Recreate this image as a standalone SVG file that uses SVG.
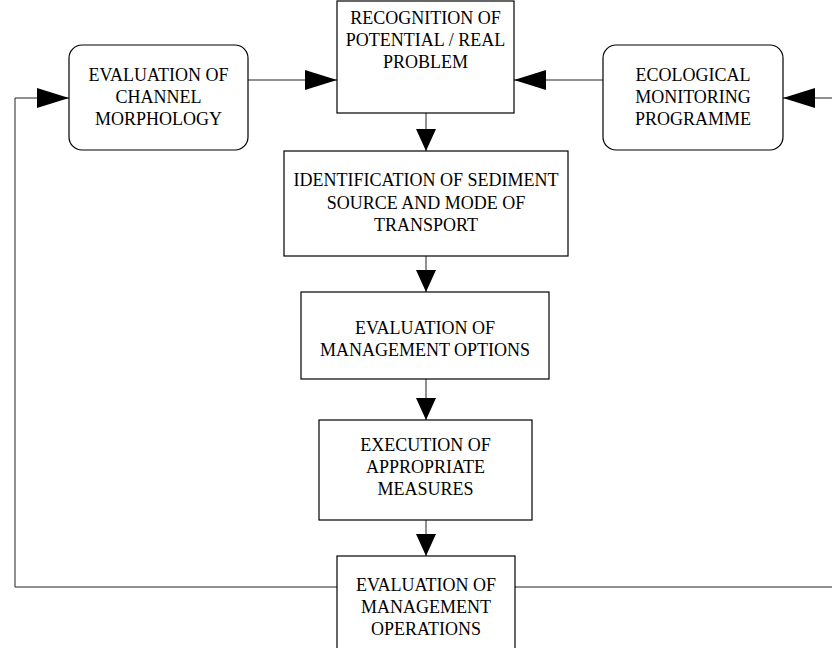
<svg xmlns="http://www.w3.org/2000/svg" width="832" height="648" viewBox="0 0 832 648">
  <defs>
    <marker id="arrow" viewBox="0 0 32 20" refX="32" refY="10" markerWidth="32" markerHeight="20" markerUnits="userSpaceOnUse" orient="auto">
      <path d="M0,0 L32,10 L0,20 Z" fill="#000"/>
    </marker>
    <marker id="arrowDown" viewBox="0 0 22 20" refX="22" refY="10" markerWidth="22" markerHeight="20" markerUnits="userSpaceOnUse" orient="auto">
      <path d="M0,0 L22,10 L0,20 Z" fill="#000"/>
    </marker>
  </defs>
  <style>
    .box { fill: #fff; stroke: #000; stroke-width: 1.2; }
    .lbl { font-family: "Liberation Serif", "Times New Roman", serif; font-size: 18px; fill: #000; text-anchor: middle; }
    .conn { fill: none; stroke: #222; stroke-width: 1; }
  </style>
  <rect width="832" height="648" fill="#fff"/>

  <g id="connectors">
    <!-- side boxes into the problem box -->
    <path class="conn" d="M248,80 H337" marker-end="url(#arrow)"/>
    <path class="conn" d="M603,80 H514" marker-end="url(#arrow)"/>
    <!-- main chain -->
    <path class="conn" d="M426,113 V151" marker-end="url(#arrowDown)"/>
    <path class="conn" d="M426,256 V292" marker-end="url(#arrowDown)"/>
    <path class="conn" d="M426,379 V420" marker-end="url(#arrowDown)"/>
    <path class="conn" d="M426,520 V556" marker-end="url(#arrowDown)"/>
    <!-- feedback loops -->
    <path class="conn" d="M337,587 H15 V98 H69" marker-end="url(#arrow)"/>
    <path class="conn" d="M515,587 H832"/>
    <path class="conn" d="M832,98 H783" marker-end="url(#arrow)"/>
  </g>

  <g id="channel">
    <rect class="box" x="69" y="45" width="179" height="105" rx="13"/>
    <text class="lbl" x="158.5" y="81">EVALUATION OF</text>
    <text class="lbl" x="158.5" y="103">CHANNEL</text>
    <text class="lbl" x="158.5" y="125">MORPHOLOGY</text>
  </g>

  <g id="recognition">
    <rect class="box" x="337" y="1" width="177" height="112"/>
    <text class="lbl" x="425.5" y="24">RECOGNITION OF</text>
    <text class="lbl" x="425.5" y="46">POTENTIAL / REAL</text>
    <text class="lbl" x="425.5" y="68">PROBLEM</text>
  </g>

  <g id="ecological">
    <rect class="box" x="603" y="45" width="180" height="105" rx="13"/>
    <text class="lbl" x="693" y="81">ECOLOGICAL</text>
    <text class="lbl" x="693" y="103">MONITORING</text>
    <text class="lbl" x="693" y="125">PROGRAMME</text>
  </g>

  <g id="identification">
    <rect class="box" x="284" y="151" width="284" height="105"/>
    <text class="lbl" x="426" y="186">IDENTIFICATION OF SEDIMENT</text>
    <text class="lbl" x="426" y="209">SOURCE AND MODE OF</text>
    <text class="lbl" x="426" y="231">TRANSPORT</text>
  </g>

  <g id="options">
    <rect class="box" x="301" y="292" width="248" height="87"/>
    <text class="lbl" x="425" y="334">EVALUATION OF</text>
    <text class="lbl" x="425" y="356">MANAGEMENT OPTIONS</text>
  </g>

  <g id="execution">
    <rect class="box" x="319" y="420" width="213" height="100"/>
    <text class="lbl" x="425.5" y="451">EXECUTION OF</text>
    <text class="lbl" x="425.5" y="473">APPROPRIATE</text>
    <text class="lbl" x="425.5" y="495">MEASURES</text>
  </g>

  <g id="operations">
    <rect class="box" x="337" y="556" width="178" height="100"/>
    <text class="lbl" x="426" y="591">EVALUATION OF</text>
    <text class="lbl" x="426" y="613">MANAGEMENT</text>
    <text class="lbl" x="426" y="635">OPERATIONS</text>
  </g>
</svg>
